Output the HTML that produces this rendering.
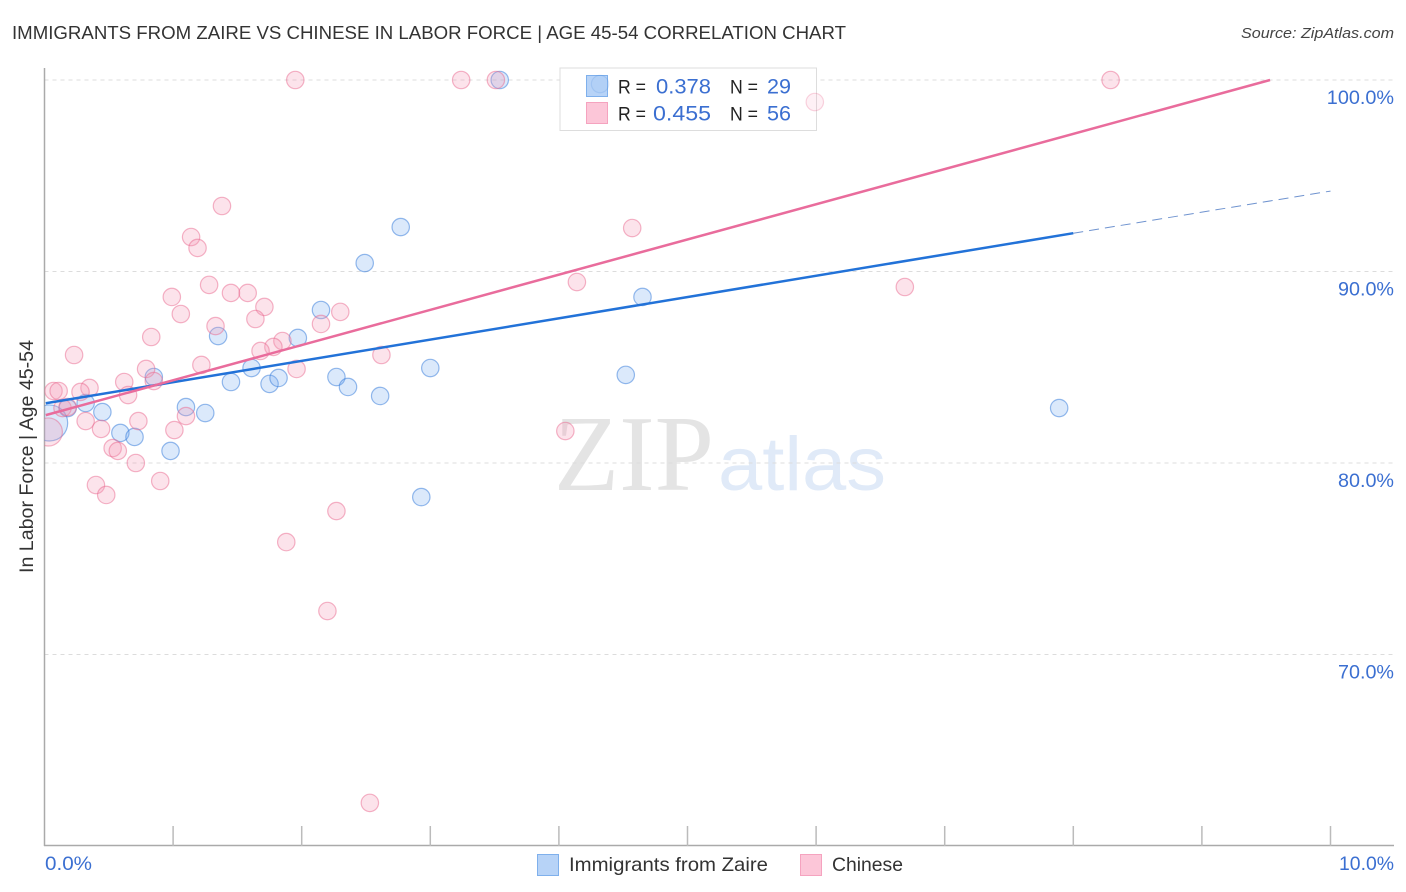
<!DOCTYPE html>
<html>
<head>
<meta charset="utf-8">
<title>Immigrants from Zaire vs Chinese in Labor Force | Age 45-54 Correlation Chart</title>
<style>
html,body{margin:0;padding:0;background:#fff;width:1406px;height:892px;overflow:hidden}
svg{display:block}
text{font-family:"Liberation Sans",sans-serif}
.blue-text{fill:#3b6fd1}
.dark{fill:#222}
</style>
</head>
<body>
<svg id="chart" xmlns="http://www.w3.org/2000/svg" width="1406" height="892" viewBox="0 0 1406 892">
  <defs><clipPath id="plot-clip"><rect x="44.5" y="50" width="1350" height="796"/></clipPath></defs>
  <text x="12" y="39" font-size="18.5" fill="#333" textLength="834" lengthAdjust="spacingAndGlyphs">IMMIGRANTS FROM ZAIRE VS CHINESE IN LABOR FORCE | AGE 45-54 CORRELATION CHART</text>
  <text x="1241" y="38" font-size="15" font-style="italic" fill="#444" textLength="153" lengthAdjust="spacingAndGlyphs">Source: ZipAtlas.com</text>

  <g>
    <text x="554" y="490" font-size="108" fill="#e4e4e4" textLength="160" lengthAdjust="spacingAndGlyphs" style="font-family:'Liberation Serif',serif">ZIP</text>
    <text x="718" y="490" font-size="76" fill="#e0eaf8" textLength="168" lengthAdjust="spacingAndGlyphs">atlas</text>
  </g>

  <g id="grid"></g>
  <g id="axes"></g>
  <g id="ylabels"></g>

  <text transform="translate(33,456.5) rotate(-90)" font-size="19" fill="#333" text-anchor="middle" textLength="233" lengthAdjust="spacingAndGlyphs">In Labor Force | Age 45-54</text>
  <text class="blue-text" x="45" y="870" font-size="19.5" textLength="47" lengthAdjust="spacingAndGlyphs">0.0%</text>
  <text class="blue-text" x="1339" y="870" font-size="19.5" textLength="55" lengthAdjust="spacingAndGlyphs">10.0%</text>

  <g>
    <rect x="560" y="68" width="256.5" height="62.5" fill="#fff" stroke="#ddd" stroke-width="1"/>
    <rect x="586.5" y="75.5" width="21" height="21" fill="#b7d3f7" stroke="#7fb0ec"/>
    <rect x="586.5" y="102.5" width="21" height="21" fill="#fcc6d8" stroke="#f5a3bf"/>
    <text class="dark" x="618" y="93.5" font-size="19.5" textLength="28" lengthAdjust="spacingAndGlyphs">R =</text>
    <text class="blue-text" x="656" y="93.5" font-size="21" textLength="55" lengthAdjust="spacingAndGlyphs">0.378</text>
    <text class="dark" x="730" y="93.5" font-size="19.5" textLength="28" lengthAdjust="spacingAndGlyphs">N =</text>
    <text class="blue-text" x="767" y="93.5" font-size="21" textLength="24" lengthAdjust="spacingAndGlyphs">29</text>
    <text class="dark" x="618" y="120.5" font-size="19.5" textLength="28" lengthAdjust="spacingAndGlyphs">R =</text>
    <text class="blue-text" x="653" y="120.5" font-size="21" textLength="58" lengthAdjust="spacingAndGlyphs">0.455</text>
    <text class="dark" x="730" y="120.5" font-size="19.5" textLength="28" lengthAdjust="spacingAndGlyphs">N =</text>
    <text class="blue-text" x="767" y="120.5" font-size="21" textLength="24" lengthAdjust="spacingAndGlyphs">56</text>
  </g>

  <g id="points" clip-path="url(#plot-clip)"></g>
  <g id="trends"></g>

  <g>
    <rect x="537.5" y="854.5" width="21" height="21" fill="#b7d3f7" stroke="#7fb0ec"/>
    <text x="569" y="871" font-size="19.5" fill="#333" textLength="199" lengthAdjust="spacingAndGlyphs">Immigrants from Zaire</text>
    <rect x="800.5" y="854.5" width="21" height="21" fill="#fcc6d8" stroke="#f5a3bf"/>
    <text x="832" y="871" font-size="19.5" fill="#333" textLength="71" lengthAdjust="spacingAndGlyphs">Chinese</text>
  </g>
</svg>
<script>
// Data (x = percent of immigrants from Zaire / Chinese, y = in labor force %)
const xTicks = [0,1,2,3,4,5,6,7,8,9,10];
const yTicks = [100,90,80,70];
const yTickLabels = ["100.0%","90.0%","80.0%","70.0%"];

const zaireX = [4.32,3.54,2.77,2.49,2.15,4.65,1.35,1.97,0.85,1.61,1.45,1.75,1.82,2.27,2.36,2.61,3.00,4.52,7.89,2.93,0.18,0.32,0.45,0.59,0.70,1.10,1.25,0.98,0.04];
const zaireY = [99.79,100,92.32,90.44,87.99,88.67,86.63,86.53,84.49,84.96,84.23,84.13,84.44,84.49,83.97,83.50,84.96,84.60,82.87,78.22,82.87,83.13,82.66,81.57,81.36,82.92,82.61,80.63,82.09];
const zaireWeight = [1,1,1,1,1,1,1,1,1,1,1,1,1,1,1,1,1,1,1,1,1,1,1,1,1,1,1,1,4.3];
const zaireFaint = [0];

const chineseX = [1.95,3.24,3.51,8.29,5.99,1.38,4.57,1.14,1.19,4.14,6.69,1.28,1.45,1.58,0.99,1.71,1.06,2.30,2.15,1.33,1.64,0.83,1.85,1.78,1.68,0.23,2.62,1.96,1.22,0.79,0.85,0.62,0.35,0.07,0.11,0.28,0.65,0.14,0.18,0.73,1.10,0.32,1.01,0.44,4.05,0.53,0.57,0.71,0.90,0.40,0.48,2.27,1.88,2.20,2.53,0.03];
const chineseY = [100,100,100,100,98.85,93.42,92.27,91.80,91.23,89.45,89.19,89.30,88.88,88.88,88.67,88.15,87.78,87.89,87.26,87.15,87.52,86.58,86.37,86.06,85.85,85.64,85.64,84.91,85.12,84.91,84.28,84.23,83.92,83.76,83.76,83.71,83.55,82.87,82.92,82.19,82.45,82.19,81.72,81.78,81.67,80.78,80.63,80,79.06,78.85,78.33,77.49,75.87,72.27,62.25,81.62];
const chineseWeight = [1,1,1,1,1,1,1,1,1,1,1,1,1,1,1,1,1,1,1,1,1,1,1,1,1,1,1,1,1,1,1,1,1,1,1,1,1,1,1,1,1,1,1,1,1,1,1,1,1,1,1,1,1,1,1,2.6];
const chineseFaint = [4];

const zaireTrendX = [0.01,8];
const zaireTrendY = [83.12,92.0];
const zaireTrendDashX = [8,10];
const zaireTrendDashY = [92.0,94.2];
const chineseTrendX = [0.01,9.53];
const chineseTrendY = [82.5,100];

const NS = "http://www.w3.org/2000/svg";
function sx(v){ return 44.5 + v * 128.6; }
function sy(v){ return 80 + (100 - v) * 19.15; }
function rs(w){ return 8.7 * Math.sqrt(w); }

function make(tag, attrs, parent){
  const el = document.createElementNS(NS, tag);
  for (const k in attrs) el.setAttribute(k, attrs[k]);
  parent.appendChild(el);
  return el;
}

const grid = document.getElementById("grid");
const axes = document.getElementById("axes");
const ylabels = document.getElementById("ylabels");
const pts = document.getElementById("points");
const trends = document.getElementById("trends");

yTicks.forEach(function(t, i){
  const line = make("line", {x1:44.5, x2:1394, y1:sy(t), y2:sy(t), stroke:"#dcdcdc", "stroke-width":1, "stroke-dasharray":"4 4"}, grid);
  
  
  const text = yTickLabels[i];
  const w = text.length * 11.2;
  const label = make("text", {x:1394 - w, y:sy(t)+24, "font-size":19.5, "class":"blue-text", textLength:w, lengthAdjust:"spacingAndGlyphs"}, ylabels);
  label.textContent = text;
  
  
});

const yAxis = make("line", {x1:44.5, x2:44.5, y1:68, y2:846, stroke:"#aaa", "stroke-width":1.5}, axes);


const xAxis = make("line", {x1:44, x2:1394, y1:845.5, y2:845.5, stroke:"#aaa", "stroke-width":1.5}, axes);


xTicks.forEach(function(t){
  if (t === 0) return;
  const tick = make("line", {x1:sx(t), x2:sx(t), y1:826, y2:846, stroke:"#bbb", "stroke-width":1.5}, axes);
  
  
});

zaireX.forEach(function(x, i){
  const faint = zaireFaint.indexOf(i) >= 0;
  const c = make("circle", {cx:sx(x), cy:sy(zaireY[i]), r:rs(zaireWeight[i]), fill:"#6ea6ee", "fill-opacity":faint?0.07:0.25, stroke:"#2f77da", "stroke-opacity":faint?0.15:0.5, "stroke-width":1.2}, pts);
  
  
});
chineseX.forEach(function(x, i){
  const faint = chineseFaint.indexOf(i) >= 0;
  const c = make("circle", {cx:sx(x), cy:sy(chineseY[i]), r:rs(chineseWeight[i]), fill:"#f596b6", "fill-opacity":faint?0.14:0.27, stroke:"#e9698f", "stroke-opacity":faint?0.28:0.5, "stroke-width":1.2}, pts);
  
  
});

const zl = make("line", {x1:sx(zaireTrendX[0]), y1:sy(zaireTrendY[0]), x2:sx(zaireTrendX[1]), y2:sy(zaireTrendY[1]), stroke:"#2272d8", "stroke-width":2.5}, trends);


const zd = make("line", {x1:sx(zaireTrendDashX[0]), y1:sy(zaireTrendDashY[0]), x2:sx(zaireTrendDashX[1]), y2:sy(zaireTrendDashY[1]), stroke:"#6f93cf", "stroke-width":1, "stroke-dasharray":"10 6"}, trends);


const cl = make("line", {x1:sx(chineseTrendX[0]), y1:sy(chineseTrendY[0]), x2:sx(chineseTrendX[1]), y2:sy(chineseTrendY[1]), stroke:"#e96c9c", "stroke-width":2.5}, trends);


</script>
</body>
</html>
